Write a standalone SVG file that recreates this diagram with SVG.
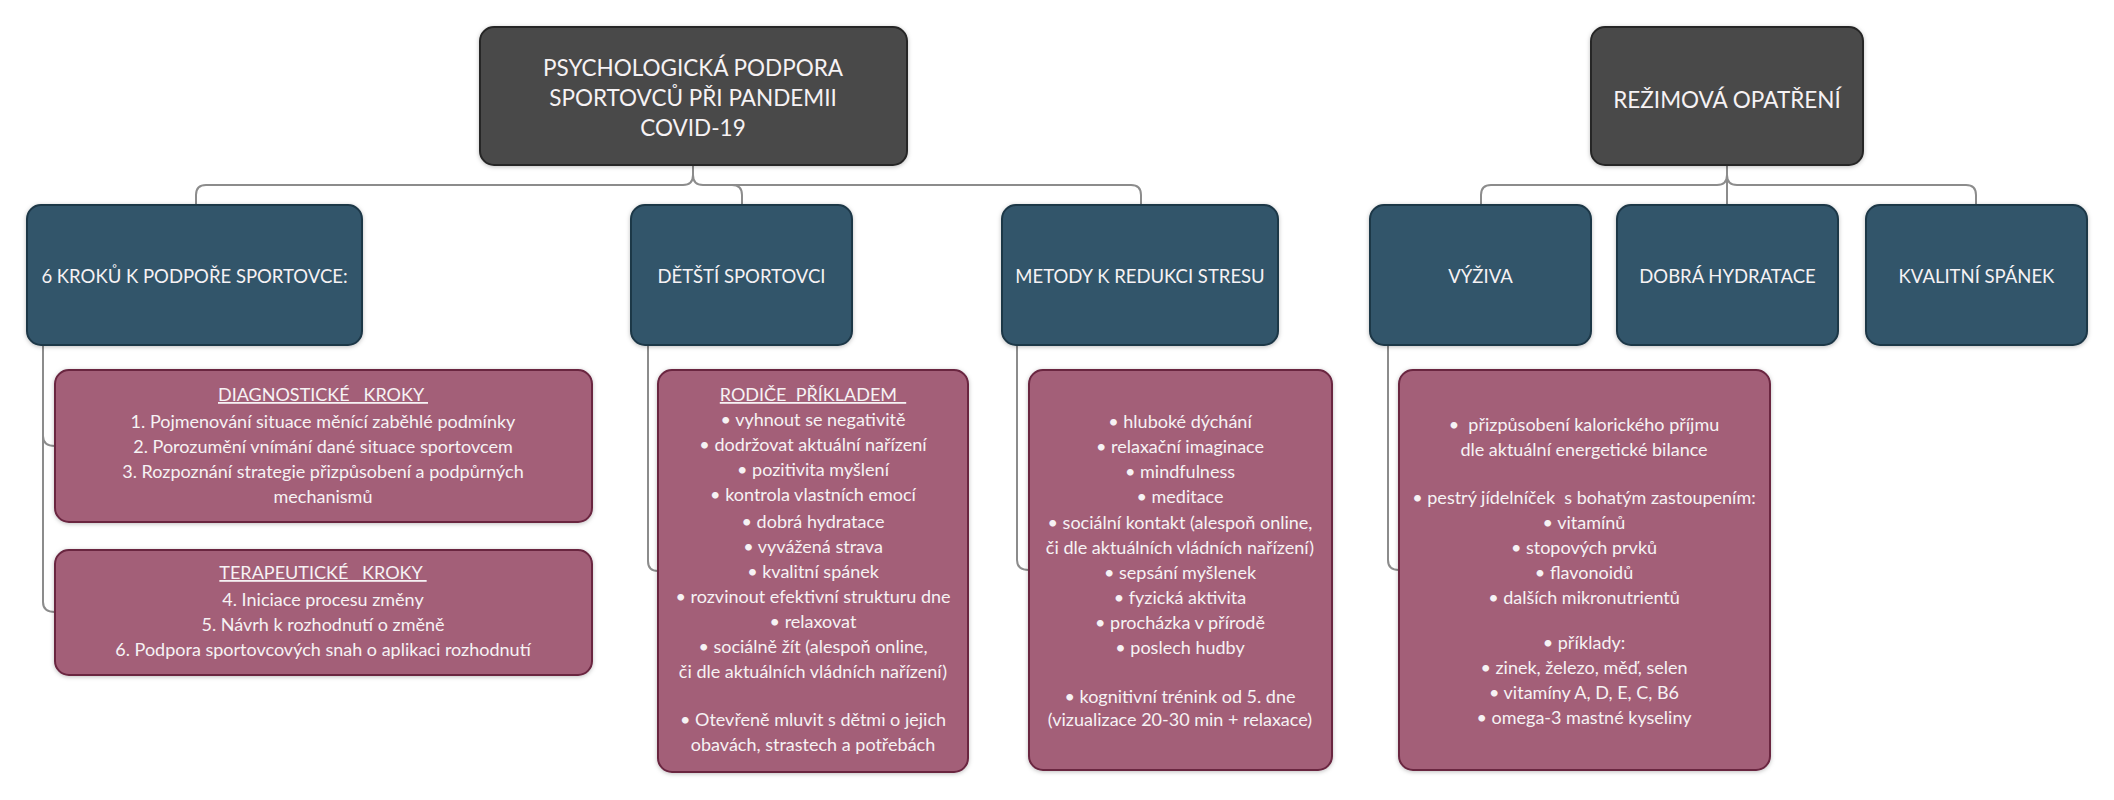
<svg xmlns="http://www.w3.org/2000/svg" width="2114" height="800" viewBox="0 0 2114 800">
<defs>
<filter id="sh" x="-5%" y="-5%" width="110%" height="110%">
<feDropShadow dx="0" dy="1" stdDeviation="2" flood-color="#000" flood-opacity="0.25"/>
</filter>
</defs>
<style>
.root{fill:#4a4a4a;stroke:#262626;stroke-width:2;filter:url(#sh)}
.l2{fill:#33546a;stroke:#1c3747;stroke-width:2;filter:url(#sh)}
.pk{fill:#a35f78;stroke:#6a2541;stroke-width:2;filter:url(#sh)}
text{font-family:Lato,"Liberation Sans",sans-serif;text-anchor:middle;fill:#f6f2f4}
.rt{font-size:22.5px}
.lt{font-size:18.5px}
.pt{font-size:18px}
.ul{text-decoration:underline;white-space:pre}
.con{fill:none;stroke:#8c8c8c;stroke-width:2}
</style>
<rect width="2114" height="800" fill="#ffffff"/>
<g id="connectors" class="con">
<path d="M693,165 V175 Q693,185 683,185 H206 Q196,185 196,195 V205"/>
<path d="M693,175 Q693,185 703,185 H1131 Q1141,185 1141,195 V205"/>
<path d="M732,185 Q742,185 742,195 V205"/>
<path d="M1727,165 V205"/>
<path d="M1727,175 Q1727,185 1717,185 H1491 Q1481,185 1481,195 V205"/>
<path d="M1727,175 Q1727,185 1737,185 H1966 Q1976,185 1976,195 V205"/>
<path d="M43,345 V602 Q43,612 55,612"/>
<path d="M43,436 Q43,446 55,446"/>
<path d="M648,345 V561 Q648,571 658,571"/>
<path d="M1017,345 V560 Q1017,570 1029,570"/>
<path d="M1388,345 V560 Q1388,570 1399,570"/>
</g>
<g id="root1">
<rect class="root" x="480" y="27" width="427" height="138" rx="14"/>
<text class="rt" x="693" y="76">PSYCHOLOGICKÁ PODPORA</text>
<text class="rt" x="693" y="106">SPORTOVCŮ PŘI PANDEMII</text>
<text class="rt" x="693" y="136">COVID-19</text>
</g>
<g id="root2">
<rect class="root" x="1591" y="27" width="272" height="138" rx="14"/>
<text class="rt" x="1727" y="108">REŽIMOVÁ OPATŘENÍ</text>
</g>
<g id="n-kroky">
<rect class="l2" x="27" y="205" width="335" height="140" rx="14"/>
<text class="lt" x="194.5" y="283">6 KROKŮ K PODPOŘE SPORTOVCE:</text>
</g>
<g id="n-detsti">
<rect class="l2" x="631" y="205" width="221" height="140" rx="14"/>
<text class="lt" x="741.5" y="283">DĚTŠTÍ SPORTOVCI</text>
</g>
<g id="n-metody">
<rect class="l2" x="1002" y="205" width="276" height="140" rx="14"/>
<text class="lt" x="1140" y="283">METODY K REDUKCI STRESU</text>
</g>
<g id="n-vyziva">
<rect class="l2" x="1370" y="205" width="221" height="140" rx="14"/>
<text class="lt" x="1480.5" y="283">VÝŽIVA</text>
</g>
<g id="n-hydratace">
<rect class="l2" x="1617" y="205" width="221" height="140" rx="14"/>
<text class="lt" x="1727.5" y="283">DOBRÁ HYDRATACE</text>
</g>
<g id="n-spanek">
<rect class="l2" x="1866" y="205" width="221" height="140" rx="14"/>
<text class="lt" x="1976.5" y="283">KVALITNÍ SPÁNEK</text>
</g>
<g id="n-diag">
<rect class="pk" x="55" y="370" width="537" height="152" rx="14"/>
<text class="pt ul" x="323" y="401">DIAGNOSTICKÉ   KROKY </text>
<text class="pt" x="323" y="428">1. Pojmenování situace měnící zaběhlé podmínky</text>
<text class="pt" x="323" y="453">2. Porozumění vnímání dané situace sportovcem</text>
<text class="pt" x="323" y="478">3. Rozpoznání strategie přizpůsobení a podpůrných</text>
<text class="pt" x="323" y="503">mechanismů</text>
</g>
<g id="n-terap">
<rect class="pk" x="55" y="550" width="537" height="125" rx="14"/>
<text class="pt ul" x="323" y="579">TERAPEUTICKÉ   KROKY </text>
<text class="pt" x="323" y="606">4. Iniciace procesu změny</text>
<text class="pt" x="323" y="631">5. Návrh k rozhodnutí o změně</text>
<text class="pt" x="323" y="656">6. Podpora sportovcových snah o aplikaci rozhodnutí</text>
</g>
<g id="n-rodice">
<rect class="pk" x="658" y="370" width="310" height="402" rx="14"/>
<text class="pt ul" x="813" y="401">RODIČE  PŘÍKLADEM  </text>
<text class="pt" x="813" y="426">• vyhnout se negativitě</text>
<text class="pt" x="813" y="451">• dodržovat aktuální nařízení</text>
<text class="pt" x="813" y="476">• pozitivita myšlení</text>
<text class="pt" x="813" y="501">• kontrola vlastních emocí</text>
<text class="pt" x="813" y="528">• dobrá hydratace</text>
<text class="pt" x="813" y="553">• vyvážená strava</text>
<text class="pt" x="813" y="578">• kvalitní spánek</text>
<text class="pt" x="813" y="603">• rozvinout efektivní strukturu dne</text>
<text class="pt" x="813" y="628">• relaxovat</text>
<text class="pt" x="813" y="653">• sociálně žít (alespoň online,</text>
<text class="pt" x="813" y="678">či dle aktuálních vládních nařízení)</text>
<text class="pt" x="813" y="726">• Otevřeně mluvit s dětmi o jejich</text>
<text class="pt" x="813" y="751">obavách, strastech a potřebách</text>
</g>
<g id="n-metody-list">
<rect class="pk" x="1029" y="370" width="303" height="400" rx="14"/>
<text class="pt" x="1180" y="428">• hluboké dýchání</text>
<text class="pt" x="1180" y="453">• relaxační imaginace</text>
<text class="pt" x="1180" y="478">• mindfulness</text>
<text class="pt" x="1180" y="503">• meditace</text>
<text class="pt" x="1180" y="529">• sociální kontakt (alespoň online,</text>
<text class="pt" x="1180" y="554">či dle aktuálních vládních nařízení)</text>
<text class="pt" x="1180" y="579">• sepsání myšlenek</text>
<text class="pt" x="1180" y="604">• fyzická aktivita</text>
<text class="pt" x="1180" y="629">• procházka v přírodě</text>
<text class="pt" x="1180" y="654">• poslech hudby</text>
<text class="pt" x="1180" y="703">• kognitivní trénink od 5. dne</text>
<text class="pt" x="1180" y="726">(vizualizace 20-30 min + relaxace)</text>
</g>
<g id="n-vyziva-list">
<rect class="pk" x="1399" y="370" width="371" height="400" rx="14"/>
<text class="pt" x="1584" y="431" style="white-space:pre">•  přizpůsobení kalorického příjmu</text>
<text class="pt" x="1584" y="456">dle aktuální energetické bilance</text>
<text class="pt" x="1584" y="504" style="white-space:pre">• pestrý jídelníček  s bohatým zastoupením:</text>
<text class="pt" x="1584" y="529">• vitamínů</text>
<text class="pt" x="1584" y="554">• stopových prvků</text>
<text class="pt" x="1584" y="579">• flavonoidů</text>
<text class="pt" x="1584" y="604">• dalších mikronutrientů</text>
<text class="pt" x="1584" y="649">• příklady:</text>
<text class="pt" x="1584" y="674">• zinek, železo, měď, selen</text>
<text class="pt" x="1584" y="699">• vitamíny A, D, E, C, B6</text>
<text class="pt" x="1584" y="724">• omega-3 mastné kyseliny</text>
</g>
</svg>
